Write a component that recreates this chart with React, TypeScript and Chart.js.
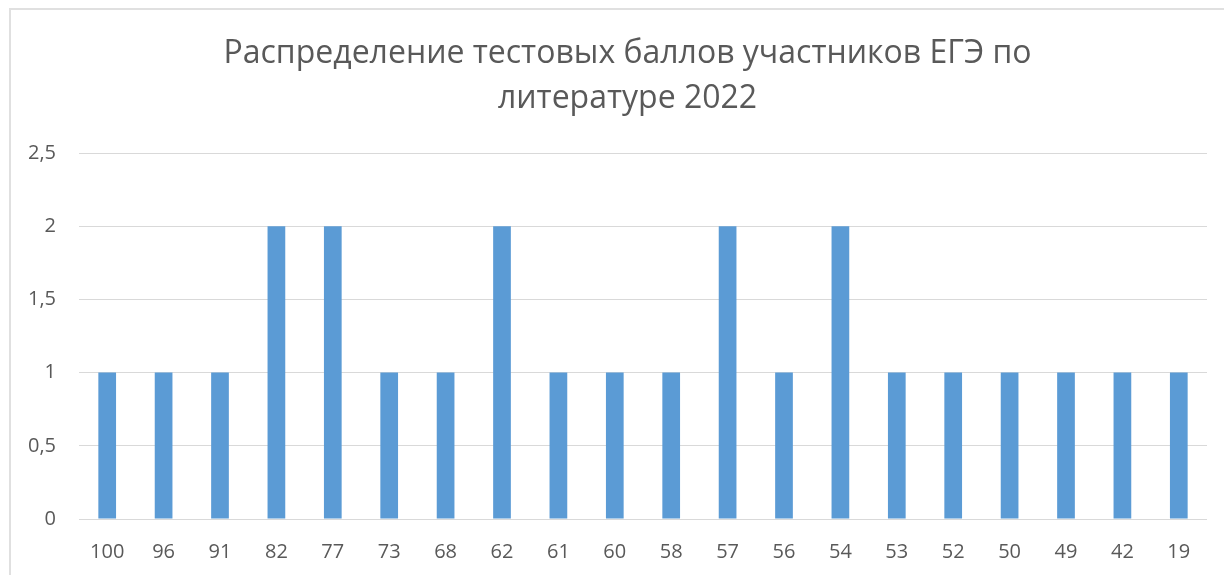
import React, { useEffect, useRef } from "react";
import { Chart, registerables } from "chart.js";

Chart.register(...registerables);

const categories = ["100", "96", "91", "82", "77", "73", "68", "62", "61", "60", "58", "57", "56", "54", "53", "52", "50", "49", "42", "19"];
const counts = [1, 1, 1, 2, 2, 1, 1, 2, 1, 1, 1, 2, 1, 2, 1, 1, 1, 1, 1, 1];
const titleLines = ["Распределение тестовых баллов участников ЕГЭ по", "литературе 2022"];
const yMin = 0;
const yMax = 2.5;
const yStep = 0.5;

const FONT = "'Open Sans', sans-serif";
const TEXT = "#595959";
const GRID = "#d9d9d9";
const BAR = "#5B9BD5";

const titlePlugin = {
  id: "excelTitle",
  afterDraw(chart: any) {
    const ctx = chart.ctx;
    ctx.save();
    ctx.fillStyle = TEXT;
    ctx.font = `32px ${FONT}`;
    ctx.textAlign = "center";
    ctx.textBaseline = "middle";
    const cx = (9 + chart.width + 22) / 2;
    titleLines.forEach((line, i) => {
      ctx.fillText(line, cx, 54 + i * 45);
    });
    ctx.restore();
  },
};

export default function App() {
  const ref = useRef<HTMLCanvasElement | null>(null);

  useEffect(() => {
    document.body.style.margin = "0";
    document.body.style.overflow = "hidden";
    const canvas = ref.current;
    if (!canvas) return;
    const chart = new Chart(canvas, {
      type: "bar",
      data: {
        labels: categories,
        datasets: [
          {
            data: counts,
            backgroundColor: BAR,
            borderWidth: 0,
            barPercentage: 1,
            categoryPercentage: 0.314,
          },
        ],
      },
      plugins: [titlePlugin],
      options: {
        responsive: false,
        animation: false,
        layout: { padding: { left: 0, right: 17, top: 153, bottom: 0 } },
        plugins: {
          legend: { display: false },
          tooltip: { enabled: false },
          title: { display: false },
        },
        scales: {
          x: {
            grid: { display: false },
            border: { display: false },
            ticks: {
              color: TEXT,
              font: { family: FONT, size: 20 },
              padding: 13,
              maxRotation: 0,
              autoSkip: false,
            },
            afterFit: (scale: any) => {
              scale.height = 56;
            },
          },
          y: {
            min: yMin,
            max: yMax,
            grid: { color: GRID, lineWidth: 1, drawTicks: false },
            border: { display: false },
            ticks: {
              stepSize: yStep,
              color: TEXT,
              font: { family: FONT, size: 20 },
              padding: 23,
              callback: (v: any) => String(v).replace(".", ","),
            },
            afterFit: (scale: any) => {
              scale.width = 79;
            },
          },
        },
      },
    });
    return () => chart.destroy();
  }, []);

  return (
    <div style={{ position: "absolute", left: 0, top: 0, width: 1224, height: 575, background: "#fff" }}>
      <div
        style={{
          position: "absolute",
          left: 9,
          top: 8,
          width: 1215,
          height: 567,
          boxSizing: "border-box",
          borderLeft: "2px solid #e0e0e0",
          borderTop: "2px solid #e0e0e0",
        }}
      />
      <canvas ref={ref} width={1224} height={575} style={{ position: "absolute", left: 0, top: 0 }} />
    </div>
  );
}
